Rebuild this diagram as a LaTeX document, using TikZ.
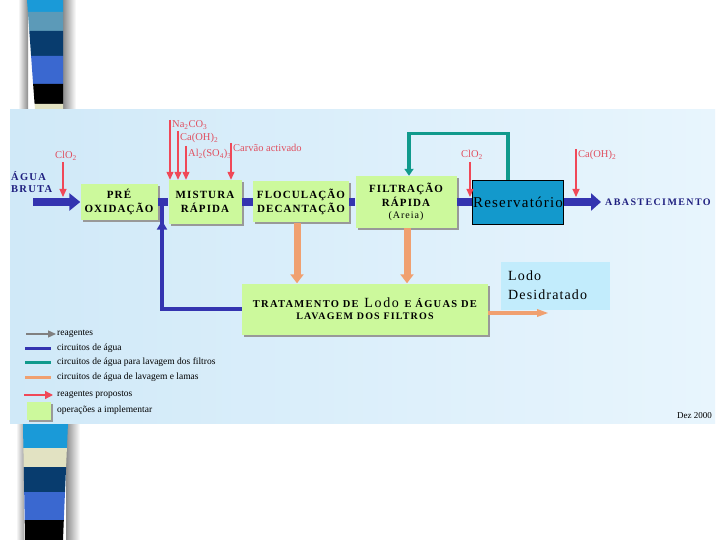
\documentclass[tikz,border=0pt]{standalone}
\usepackage{fontspec}
\setmainfont{Liberation Serif}
\newfontfamily\spacedA[LetterSpace=10]{Liberation Serif}
\newfontfamily\spacedB[LetterSpace=12]{Liberation Serif}
\newfontfamily\spacedC[LetterSpace=14]{Liberation Serif}
\newfontfamily\spacedD[LetterSpace=8]{Liberation Serif}
\usetikzlibrary{arrows.meta,shadows,decorations.markings}
\definecolor{boxgreen}{HTML}{CCF99C}
\definecolor{flowblue}{HTML}{3434B0}
\definecolor{navytext}{HTML}{202080}
\definecolor{tealflow}{HTML}{109A8C}
\definecolor{salmon}{HTML}{F0A070}
\definecolor{reagred}{HTML}{F04858}
\definecolor{labred}{HTML}{E05060}
\definecolor{resblue}{HTML}{1399CC}
\definecolor{lodoblue}{HTML}{C2ECFC}
\definecolor{stA}{HTML}{1A9AD8}
\definecolor{stB}{HTML}{5C9AB8}
\definecolor{stC}{HTML}{083C6E}
\definecolor{stD}{HTML}{3A68D0}
\definecolor{stE}{HTML}{E2E2C2}
\definecolor{panelL}{HTML}{D0E9F8}
\definecolor{panelR}{HTML}{E8F5FD}
\newcommand{\sbs}[1]{\textsubscript{#1}}
\tikzset{
  greenbox/.style={fill=boxgreen, draw=none, align=center, inner sep=0pt,
    font=\spacedA\bfseries\fontsize{11}{13.5}\selectfont,
    drop shadow={shadow xshift=2pt, shadow yshift=-2pt, fill=black!40, opacity=1}},
  flow/.style={draw=flowblue, line width=8pt},
  retflow/.style={draw=flowblue, line width=4.5pt},
  washflow/.style={draw=tealflow, line width=3.5pt},
  sludge/.style={draw=salmon, line width=7pt, -{Triangle[width=13pt,length=9pt]}},
  reagent/.style={draw=reagred, line width=1.1pt, -{Triangle[width=7pt,length=8pt]}},
  reaglabel/.style={text=labred, font=\fontsize{10.5}{12}\selectfont, inner sep=0pt},
  legtext/.style={font=\fontsize{9.5}{11}\selectfont, anchor=west, inner sep=0pt},
}
\begin{document}
\begin{tikzpicture}[x=1pt,y=-1pt]
\useasboundingbox (0,0) rectangle (720,540);
\fill[white] (0,0) rectangle (720,540);
% ---- decorative strip, top
\shade[left color=white, right color=black!45] (18,0) rectangle (28,110);
\shade[left color=black!45, right color=white] (63,0) rectangle (76,110);
\fill[stA] (27,0) -- (63,0) -- (63,12) -- (27.9,12) -- cycle;
\fill[stB] (27.9,12) -- (63,12) -- (63,31) -- (29.3,31) -- cycle;
\fill[stC] (29.3,31) -- (63,31) -- (63,56) -- (31.1,56) -- cycle;
\fill[stD] (31.1,56) -- (63,56) -- (63,84) -- (33.1,84) -- cycle;
\fill[black] (33.1,84) -- (63,84) -- (63,104) -- (34.6,104) -- cycle;
\fill[stE] (34.6,104) -- (63,104) -- (63,110) -- (35,110) -- cycle;
% ---- decorative strip, bottom
\shade[left color=black!45, right color=white] (66,423) rectangle (80,540);
\shade[left color=white, right color=black!35] (16,423) rectangle (24,540);
\fill[stA] (23,423) -- (68,423) -- (66.9,448) -- (23.4,448) -- cycle;
\fill[stE] (23.4,448) -- (66.9,448) -- (66.1,467) -- (23.75,467) -- cycle;
\fill[stC] (23.75,467) -- (66.1,467) -- (65,492) -- (24.2,492) -- cycle;
\fill[stD] (24.2,492) -- (65,492) -- (63.8,520) -- (24.7,520) -- cycle;
\fill[black] (24.7,520) -- (63.8,520) -- (63,540) -- (25,540) -- cycle;
% ---- panel
\shade[left color=panelL, right color=panelR] (10,110) rectangle (715,423);

% ---- boxes
\node[greenbox, minimum width=77pt, minimum height=36pt] (pre) at (119,202) {PRÉ\\OXIDAÇÃO};
\node[greenbox, minimum width=73pt, minimum height=44pt] (mist) at (205,202) {MISTURA\\RÁPIDA};
\node[greenbox, minimum width=96pt, minimum height=41pt] (floc) at (301,202) {FLOCULAÇÃO\\DECANTAÇÃO};
\node[greenbox, minimum width=101pt, minimum height=52pt] (filt) at (406,202)
  {FILTRAÇÃO\\RÁPIDA\\[-1pt]{\mdseries\fontsize{10}{12}\selectfont(Areia)}};
\node[fill=resblue, draw=black, line width=0.8pt, minimum width=91pt, minimum height=44pt,
  inner sep=0pt, font=\spacedD\fontsize{15}{17}\selectfont] (res) at (518,202) {Reservatório};
\node[greenbox, minimum width=246pt, minimum height=51pt, font=\spacedB\bfseries\fontsize{10.5}{13}\selectfont]
  (trat) at (365,309)
  {TRATAMENTO DE \,{\mdseries\fontsize{14}{13}\selectfont Lodo}\, E ÁGUAS DE\\[-1pt]
   {\fontsize{10}{12}\selectfont LAVAGEM DOS FILTROS}};
\node[fill=lodoblue, minimum width=109pt, minimum height=48pt, inner sep=0pt] (lodo) at (555,286) {};
\node[anchor=north west, align=left, inner sep=0pt, font=\spacedD\fontsize{14}{19}\selectfont]
  (lodotxt) at (508,271) {Lodo\\Desidratado};

% ---- labels
\node[anchor=west, align=left, inner sep=0pt, text=navytext,
  font=\spacedB\bfseries\fontsize{10.5}{12.5}\selectfont] (agua) at (11,182) {ÁGUA\\BRUTA};
\node[anchor=west, inner sep=0pt, text=navytext, font=\spacedC\bfseries\fontsize{10}{12}\selectfont]
  (abast) at (605,202) {ABASTECIMENTO};

% ---- water circuit
\coordinate (agin) at (33,202);
\draw[flow, -{Triangle[width=17pt,length=11pt]}] (agin) -- (pre.west);
\draw[flow] (pre.east) -- (mist.west);
\draw[flow] (mist.east) -- (floc.west);
\draw[flow] (floc.east) -- (filt.west);
\draw[flow] (filt.east) -- (res.west);
\draw[flow, -{Triangle[width=17pt,length=10pt]}, shorten >=4pt] (res.east) -- (abast.west);
\coordinate (j1) at (162,202);
\draw[retflow, postaction={decorate}, decoration={markings,
  mark=at position 0.9 with {\arrow{Triangle[width=10pt,length=9pt]}}}]
  (trat.west) -| (j1);
% ---- wash water
\draw[washflow, -{Triangle[width=9pt,length=7pt]}]
  ([xshift=-10pt]res.north) -- ++(0,-46) -| ([xshift=3pt]filt.north);
% ---- sludge
\draw[sludge] ([xshift=-4pt]floc.south) -- ([xshift=-4pt]floc.south |- trat.north);
\draw[sludge] ([xshift=1pt]filt.south) -- ([xshift=1pt]filt.south |- trat.north);
\coordinate (lodoend) at (549,313);
\draw[draw=salmon, line width=4pt, -{Triangle[width=7pt,length=12pt]}] (trat.east |- lodoend) -- (lodoend);

% ---- reagents
\coordinate (cl1) at (63,162);   \coordinate (cl1e) at (63,197);
\coordinate (na) at (170,120);
\coordinate (ca) at (178,131);
\coordinate (al) at (186,146);
\coordinate (carv) at (231,143);
\coordinate (cl2) at (470,162);  \coordinate (cl2e) at (470,197);
\coordinate (ca2) at (576,149);  \coordinate (ca2e) at (576,197);
\draw[reagent] (cl1) -- (cl1e);
\draw[reagent] (na) -- (na |- mist.north);
\draw[reagent] (ca) -- (ca |- mist.north);
\draw[reagent] (al) -- (al |- mist.north);
\draw[reagent] (carv) -- (carv |- mist.north);
\draw[reagent] (cl2) -- (cl2e);
\draw[reagent] (ca2) -- (ca2e);
\node[reaglabel] (lcl1) at (66,156) {ClO\sbs{2}};
\node[reaglabel, anchor=west] (lna) at (172,125) {Na\sbs{2}CO\sbs{3}};
\node[reaglabel, anchor=west] (lca) at (180,138) {Ca(OH)\sbs{2}};
\node[reaglabel, anchor=west] (lal) at (188,154) {Al\sbs{2}(SO\sbs{4})\sbs{3}};
\node[reaglabel, anchor=west] (lcarv) at (233,148) {Carvão activado};
\node[reaglabel] (lcl2) at (472,155) {ClO\sbs{2}};
\node[reaglabel, anchor=west] (lca2) at (578,155) {Ca(OH)\sbs{2}};

% ---- legend
\coordinate (g1a) at (26,334); \coordinate (g1b) at (56,334);
\draw[draw=black!50, line width=1.3pt, -{Triangle[width=7pt,length=8pt]}] (g1a) -- (g1b);
\node[legtext] (t1) at (57,334) {reagentes};
\coordinate (g2a) at (25,348); \coordinate (g2b) at (51,348);
\draw[draw=flowblue, line width=3pt] (g2a) -- (g2b);
\node[legtext] (t2) at (57,348) {circuitos de água};
\coordinate (g3a) at (25,362); \coordinate (g3b) at (51,362);
\draw[draw=tealflow, line width=3pt] (g3a) -- (g3b);
\node[legtext] (t3) at (57,362) {circuitos de água para lavagem dos filtros};
\coordinate (g4a) at (25,377); \coordinate (g4b) at (51,377);
\draw[draw=salmon, line width=3pt] (g4a) -- (g4b);
\node[legtext] (t4) at (57,377) {circuitos de água de lavagem e lamas};
\coordinate (g5a) at (24,395); \coordinate (g5b) at (53,395);
\draw[draw=reagred, line width=1.3pt, -{Triangle[width=8pt,length=8pt]}] (g5a) -- (g5b);
\node[legtext] (t5) at (57,395) {reagentes propostos};
\node[fill=boxgreen, minimum width=24pt, minimum height=18pt, inner sep=0pt,
  drop shadow={shadow xshift=1.5pt, shadow yshift=-1.5pt, fill=black!40, opacity=1}] (g6) at (39,411) {};
\node[legtext] (t6) at (57,410) {operações a implementar};
\node[anchor=east, inner sep=0pt, font=\fontsize{9}{10}\selectfont] (dez) at (712,416) {Dez 2000};
\end{tikzpicture}
\end{document}
